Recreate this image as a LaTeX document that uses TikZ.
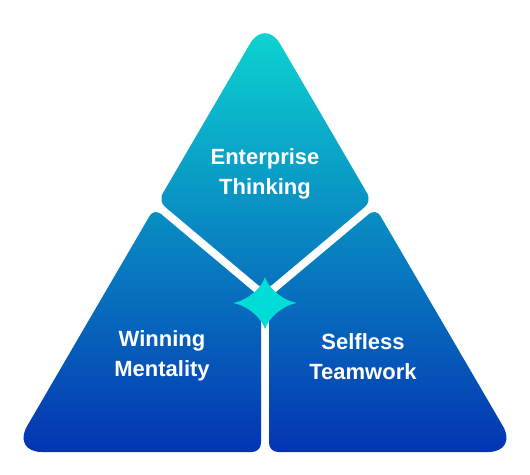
\documentclass[tikz,border=0pt]{standalone}
\usepackage{fontspec}
\setmainfont{Liberation Sans}
\usetikzlibrary{calc}
\definecolor{topc}{RGB}{12,212,208}
\definecolor{botc}{RGB}{4,52,178}
\definecolor{starc}{RGB}{0,220,214}
\begin{document}
\begin{tikzpicture}[x=1pt,y=-1pt,
  lbl/.style={text=white,font=\bfseries\fontsize{22}{26}\selectfont,anchor=base,inner sep=0pt},
  grad/.style={top color=topc,bottom color=botc}]
\useasboundingbox[fill=white] (0,0) rectangle (530,474);
% outer triangle vertices
\coordinate (A) at (265,18);
\coordinate (B) at (12,452);
\coordinate (C) at (518,452);
% inner piece vertices
\coordinate (Lt) at (158.2,201.1);
\coordinate (Jt) at (265,290.8);
\coordinate (Rt) at (371.8,201.1);
\coordinate (Lb) at (154.1,208.2);
\coordinate (Jl) at (261,297.9);
\coordinate (Dl) at (261,452);
\coordinate (Rb) at (375.9,208.2);
\coordinate (Jr) at (269,297.9);
\coordinate (Dr) at (269,452);
\begin{scope}
  \clip[rounded corners=30pt] (265,452) -- (C) -- (A) -- (B) -- cycle;
  % top piece
  \begin{scope}
    \clip[rounded corners=9pt] ($(A)!0.5!(Lt)$) -- (Lt) -- (Jt) -- (Rt) -- (A) -- cycle;
    \shade[grad] (0,30) rectangle (530,452);
  \end{scope}
  % left piece
  \begin{scope}
    \clip[rounded corners=9pt] ($(B)!0.5!(Dl)$) -- (Dl) -- (Jl) -- (Lb) -- (B) -- cycle;
    \shade[grad] (0,30) rectangle (530,452);
  \end{scope}
  % right piece
  \begin{scope}
    \clip[rounded corners=9pt] ($(C)!0.5!(Dr)$) -- (C) -- (Rb) -- (Jr) -- (Dr) -- cycle;
    \shade[grad] (0,30) rectangle (530,452);
  \end{scope}
\end{scope}
% star
\fill[starc] (265,277) .. controls (268,287) and (281,300) .. (297,303)
  .. controls (281,306) and (268,319) .. (265,329)
  .. controls (262,319) and (249,306) .. (233,303)
  .. controls (249,300) and (262,287) .. (265,277) -- cycle;
% labels
\node[lbl] (e1) at (265,164) {Enterprise};
\node[lbl] (e2) at (265,194) {Thinking};
\node[lbl] (w1) at (162,346.5) {Winning};
\node[lbl] (w2) at (162,376) {Mentality};
\node[lbl] (s1) at (363,349) {Selfless};
\node[lbl] (s2) at (363,379) {Teamwork};
\end{tikzpicture}
\end{document}
